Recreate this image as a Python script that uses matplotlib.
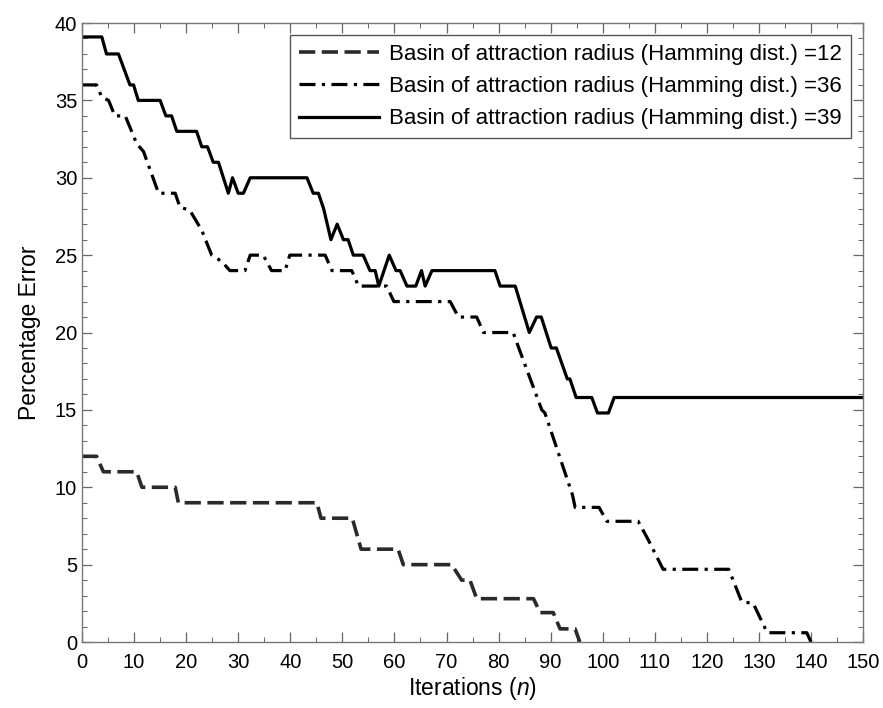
import matplotlib
matplotlib.use("Agg")
import matplotlib.pyplot as plt
from matplotlib.ticker import MultipleLocator

plt.rcParams["font.family"] = ["Liberation Sans", "DejaVu Sans"]
plt.rcParams["mathtext.fontset"] = "custom"
plt.rcParams["mathtext.it"] = "Liberation Sans:italic"
plt.rcParams["mathtext.rm"] = "Liberation Sans"

# ── Data (vertices) ───────────────────────────────────────────────
r12_x = [0, 2.8, 4.1, 10.5, 11.5, 17.9, 18.5, 45.1, 45.9, 51.9, 53.6, 60.7,
         61.7, 71, 72.9, 74.5, 75.8, 86.7, 88, 90.5, 91.8, 94.7, 95.6]
r12_y = [12, 12, 11, 11, 10, 10, 9, 9, 8, 8, 6, 6,
         5, 5, 4, 4, 2.8, 2.8, 1.9, 1.9, 0.85, 0.85, 0]

r36_x = [0, 2.8, 3.8, 5.1, 6.3, 8.3, 10.5, 11.8, 14.7, 17.9, 18.8, 20.7,
         23, 24.9, 26.8, 28.4, 31.3, 32.3, 34.8, 36.4, 39, 39.9, 46.7, 48,
         51.8, 53.1, 58.5, 59.9, 70.7, 72.3, 75.8, 77.1, 82.8, 84.1, 88.3,
         88.9, 94.2, 94.7, 99.3, 100.8, 106.8, 108.6, 111.6, 124.2, 126.7,
         128.9, 131.6, 139.2, 140]
r36_y = [36, 36, 35.2, 35, 34, 34, 32.2, 31.7, 29, 29, 28.1, 27.9,
         26.6, 25, 24.6, 24, 24, 25, 25, 24, 24, 25, 25, 24,
         24, 23, 23, 22, 22, 21, 21, 20, 20, 18.8, 15,
         14.8, 9.5, 8.7, 8.7, 7.8, 7.8, 6.7, 4.7, 4.7, 2.6,
         2.5, 0.6, 0.6, 0]

r39_x = [0, 3.8, 4.7, 7, 9.2, 9.9, 10.8, 15, 16.1, 17.2, 18.2, 22, 23, 24.1,
         25.2, 26.2, 28.1, 28.9, 30, 31, 32.3, 43.2, 44.4, 45.4, 46.4, 47.8,
         49, 50.2, 51.1, 52.1, 54, 55.3, 56.3, 57, 59, 60.3, 61.1, 62.4, 64.1,
         65.2, 65.9, 67.2, 79.3, 80.3, 83.2, 85.9, 87.3, 88.2, 90.1, 91.1,
         93.2, 93.7, 94.9, 97.9, 99, 101.1, 102.2, 150]
r39_y = [39.1, 39.1, 38, 38, 36, 36, 35, 35, 34, 34, 33, 33, 32, 32,
         31, 31, 29, 30, 29, 29, 30, 30, 29, 29, 28, 26,
         27, 26, 26, 25, 25, 24, 24, 23, 25, 24, 24, 23, 23,
         24, 23, 24, 24, 23, 23, 20, 21, 21, 19, 19,
         17, 17, 15.8, 15.8, 14.8, 14.8, 15.8, 15.8]

labels = ["Basin of attraction radius (Hamming dist.) =12",
          "Basin of attraction radius (Hamming dist.) =36",
          "Basin of attraction radius (Hamming dist.) =39"]

# ── Figure ─────────────────────────────────────────────────────────
fig = plt.figure(figsize=(8.83, 7.08), dpi=100)
ax = fig.add_axes([0.0929, 0.0932, 0.8845, 0.8743])

ax.plot(r12_x, r12_y, color="#2a2a2a", linewidth=2.6, dashes=(4.5, 1.8),
        label=labels[0])
ax.plot(r36_x, r36_y, color="black", linewidth=2.3, dashes=(5, 2, 1, 2),
        label=labels[1])
ax.plot(r39_x, r39_y, color="black", linewidth=2.3, linestyle="-",
        label=labels[2])

ax.set_xlim(0, 150)
ax.set_ylim(0, 40)
ax.xaxis.set_major_locator(MultipleLocator(10))
ax.xaxis.set_minor_locator(MultipleLocator(5))
ax.yaxis.set_major_locator(MultipleLocator(5))
ax.yaxis.set_minor_locator(MultipleLocator(1))
ax.tick_params(which="both", direction="in", top=True, right=True,
               colors="#666666", labelcolor="black", labelsize=14.5)
ax.tick_params(which="major", length=7, width=0.9)
ax.tick_params(which="minor", length=3.5, width=0.7)
ax.tick_params(axis="x", which="major", pad=8)
for sp in ax.spines.values():
    sp.set_color("#777777")
    sp.set_linewidth(1.0)

ax.set_xlabel("Iterations ($\\it{n}$)", fontsize=16.5, labelpad=2)
ax.set_ylabel("Percentage Error", fontsize=16.5, labelpad=10)

leg = ax.legend(loc="upper right", fontsize=16, handlelength=3.6,
                handletextpad=0.45, borderaxespad=0.55, labelspacing=0.5,
                fancybox=False, framealpha=1, borderpad=0.4)
leg.get_frame().set_edgecolor("#555555")
leg.get_frame().set_linewidth(1.0)

fig.savefig("out.png", dpi=100)
